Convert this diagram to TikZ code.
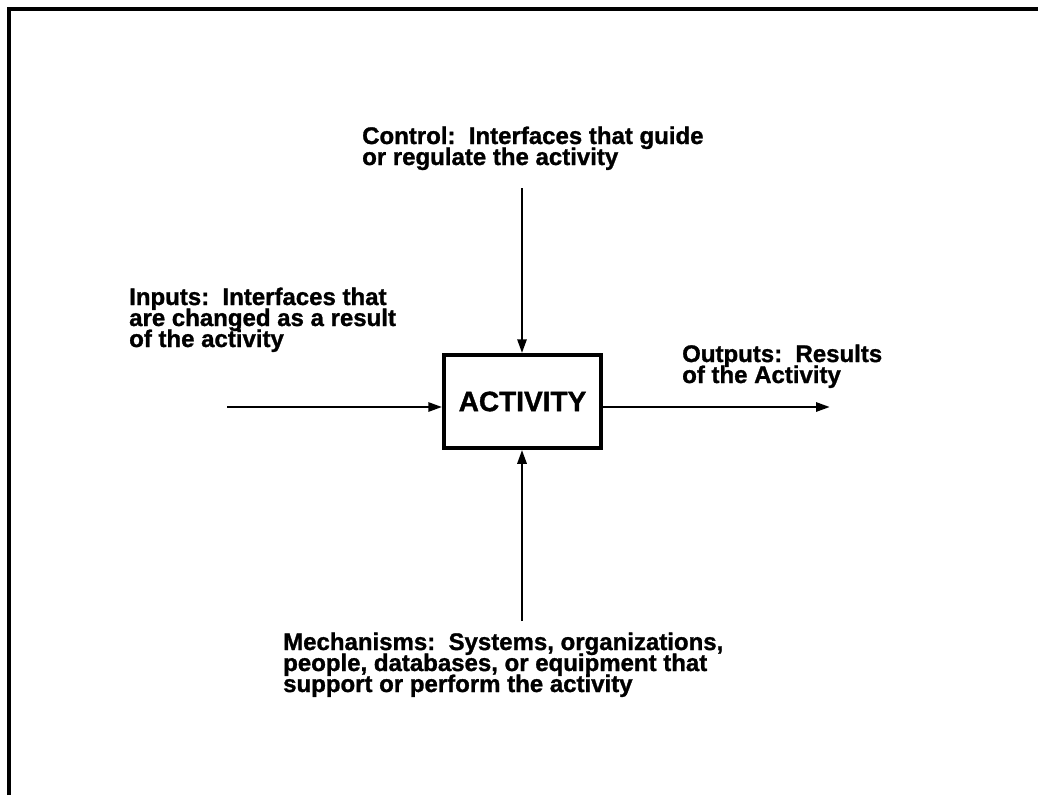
\documentclass[tikz,border=0pt]{standalone}
\usepackage{fontspec}
\setmainfont{Liberation Sans}
\newfontfamily\heavyfont{Liberation Sans}[UprightFont=*-Bold,FakeBold=1.2]
\usetikzlibrary{arrows.meta}
\newcommand\mlines[1]{\vtop{\baselineskip=21pt\lineskiplimit=-100pt\lineskip=0pt #1}}
\begin{document}
\begin{tikzpicture}[x=1pt,y=-1pt,
  lbl/.style={anchor=base west,inner sep=0pt,font=\fontsize{24}{21}\heavyfont},
  actbox/.style={draw,line width=3.5pt,minimum width=157pt,minimum height=93pt,inner sep=0pt,font=\fontsize{28}{30}\heavyfont},
  flow/.style={line width=2.8pt,-{Triangle[length=14pt,width=9pt]}},
  frameline/.style={line width=4pt}]
\useasboundingbox (0,0) rectangle (1038,795);
\draw[frameline] (8.5,795) -- (8.5,8.5) -- (1038,8.5);
\node[actbox] (act) at (522.5,401.5) {ACTIVITY};
\coordinate (inS) at (227,407);
\coordinate (outE) at (830,407);
\coordinate (ctlS) at (522,188);
\coordinate (mechS) at (522,621);
\draw[flow] (inS) -- (inS -| act.west);
\draw[flow] (act.east |- outE) -- (outE);
\draw[flow] (ctlS) -- (ctlS |- act.north);
\draw[flow] (mechS) -- (mechS |- act.south);
\node[lbl] (ctl) at (362,144) {\mlines{\hbox{Control:\ \ Interfaces that guide}\hbox{or regulate the activity}}};
\node[lbl] (inp) at (129,305) {\mlines{\hbox{Inputs:\ \ Interfaces that}\hbox{are changed as a result}\hbox{of the activity}}};
\node[lbl] (outp) at (682,362) {\mlines{\hbox{Outputs:\ \ Results}\hbox{of the Activity}}};
\node[lbl] (mech) at (283,650) {\mlines{\hbox{Mechanisms:\ \ Systems, organizations,}\hbox{people, databases, or equipment that}\hbox{support or perform the activity}}};
\end{tikzpicture}
\end{document}
